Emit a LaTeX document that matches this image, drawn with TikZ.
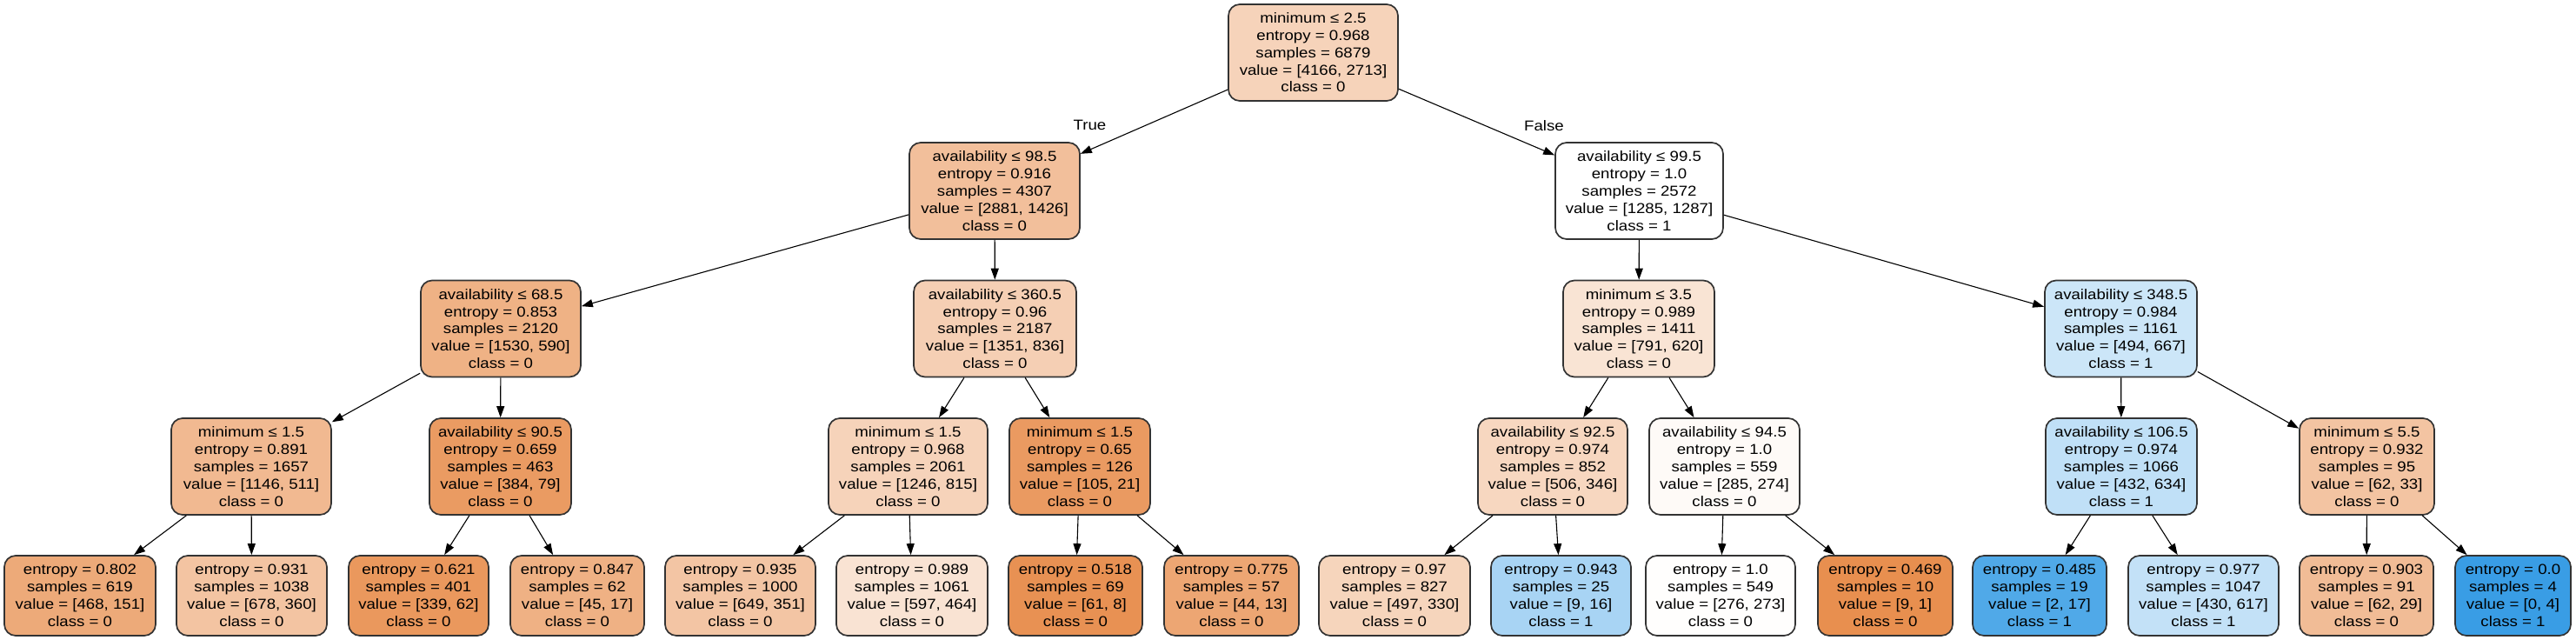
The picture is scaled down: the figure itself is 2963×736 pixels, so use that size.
\documentclass[tikz,border=0pt]{standalone}
\usepackage{fontspec}
\setmainfont{Liberation Sans}[FakeStretch=1.13]
\usetikzlibrary{arrows.meta}
\definecolor{cz}{RGB}{229,129,57}
\definecolor{co}{RGB}{57,157,229}
\newcommand\tnode[7]{\node[tn, fill=#6, minimum width=#4pt, minimum height=#5pt] (#1) at (#2,#3) {#7};}
\begin{document}
\begin{tikzpicture}[x=1pt,y=-1pt,
  tn/.style={draw=black!80, line width=1.7pt, rounded corners=13pt, inner sep=0pt, align=center, font=\fontsize{16.5}{19.8}\selectfont},
  ed/.style={-{Triangle[length=13pt,width=9pt]}, line width=1.1pt, black},
  lab/.style={font=\fontsize{16.5}{19.8}\selectfont}]
\fill[white] (0,0) rectangle (2963,736);
\useasboundingbox (0,0) rectangle (2963,736);
% level 0
\tnode{r}{1510.5}{60.5}{195}{111}{cz!34.9!white}{minimum ≤ 2.5\\entropy = 0.968\\samples = 6879\\value = [4166, 2713]\\class = 0}
% level 1
\tnode{a}{1144}{219.5}{196}{111}{cz!50.5!white}{availability ≤ 98.5\\entropy = 0.916\\samples = 4307\\value = [2881, 1426]\\class = 0}
\tnode{b}{1885.5}{219.5}{193}{111}{co!0.2!white}{availability ≤ 99.5\\entropy = 1.0\\samples = 2572\\value = [1285, 1287]\\class = 1}
% level 2
\tnode{aa}{576}{378}{184}{111}{cz!61.4!white}{availability ≤ 68.5\\entropy = 0.853\\samples = 2120\\value = [1530, 590]\\class = 0}
\tnode{ab}{1144.5}{378}{187}{111}{cz!38.1!white}{availability ≤ 360.5\\entropy = 0.96\\samples = 2187\\value = [1351, 836]\\class = 0}
\tnode{ba}{1885}{378}{174}{111}{cz!21.6!white}{minimum ≤ 3.5\\entropy = 0.989\\samples = 1411\\value = [791, 620]\\class = 0}
\tnode{bb}{2439.5}{378}{175}{111}{co!25.9!white}{availability ≤ 348.5\\entropy = 0.984\\samples = 1161\\value = [494, 667]\\class = 1}
% level 3
\tnode{aaa}{289}{536.5}{184}{111}{cz!55.4!white}{minimum ≤ 1.5\\entropy = 0.891\\samples = 1657\\value = [1146, 511]\\class = 0}
\tnode{aab}{575.5}{536.5}{163}{111}{cz!79.4!white}{availability ≤ 90.5\\entropy = 0.659\\samples = 463\\value = [384, 79]\\class = 0}
\tnode{aba}{1044.5}{536.5}{183}{111}{cz!34.6!white}{minimum ≤ 1.5\\entropy = 0.968\\samples = 2061\\value = [1246, 815]\\class = 0}
\tnode{abb}{1242}{536.5}{162}{111}{cz!80!white}{minimum ≤ 1.5\\entropy = 0.65\\samples = 126\\value = [105, 21]\\class = 0}
\tnode{baa}{1786}{536.5}{172}{111}{cz!31.6!white}{availability ≤ 92.5\\entropy = 0.974\\samples = 852\\value = [506, 346]\\class = 0}
\tnode{bab}{1983.5}{536.5}{173}{111}{cz!3.9!white}{availability ≤ 94.5\\entropy = 1.0\\samples = 559\\value = [285, 274]\\class = 0}
\tnode{bba}{2440}{536.5}{174}{111}{co!31.9!white}{availability ≤ 106.5\\entropy = 0.974\\samples = 1066\\value = [432, 634]\\class = 1}
\tnode{bbb}{2722.5}{536.5}{155}{111}{cz!46.8!white}{minimum ≤ 5.5\\entropy = 0.932\\samples = 95\\value = [62, 33]\\class = 0}
% leaves
\tnode{l1}{92}{685}{174}{92}{cz!67.7!white}{entropy = 0.802\\samples = 619\\value = [468, 151]\\class = 0}
\tnode{l2}{289.5}{685}{173}{92}{cz!46.9!white}{entropy = 0.931\\samples = 1038\\value = [678, 360]\\class = 0}
\tnode{l3}{481.5}{685}{161}{92}{cz!81.7!white}{entropy = 0.621\\samples = 401\\value = [339, 62]\\class = 0}
\tnode{l4}{664}{685}{154}{92}{cz!62.2!white}{entropy = 0.847\\samples = 62\\value = [45, 17]\\class = 0}
\tnode{l5}{851.5}{685}{173}{92}{cz!45.9!white}{entropy = 0.935\\samples = 1000\\value = [649, 351]\\class = 0}
\tnode{l6}{1049}{685}{174}{92}{cz!22.3!white}{entropy = 0.989\\samples = 1061\\value = [597, 464]\\class = 0}
\tnode{l7}{1237}{685}{154}{92}{cz!86.9!white}{entropy = 0.518\\samples = 69\\value = [61, 8]\\class = 0}
\tnode{l8}{1416.5}{685}{155}{92}{cz!70.5!white}{entropy = 0.775\\samples = 57\\value = [44, 13]\\class = 0}
\tnode{l9}{1604}{685}{174}{92}{cz!33.6!white}{entropy = 0.97\\samples = 827\\value = [497, 330]\\class = 0}
\tnode{l10}{1795.5}{685}{161}{92}{co!43.8!white}{entropy = 0.943\\samples = 25\\value = [9, 16]\\class = 1}
\tnode{l11}{1979}{685}{172}{92}{cz!1.1!white}{entropy = 1.0\\samples = 549\\value = [276, 273]\\class = 0}
\tnode{l12}{2168.5}{685}{155}{92}{cz!88.9!white}{entropy = 0.469\\samples = 10\\value = [9, 1]\\class = 0}
\tnode{l13}{2346}{685}{154}{92}{co!88.2!white}{entropy = 0.485\\samples = 19\\value = [2, 17]\\class = 1}
\tnode{l14}{2534.5}{685}{173}{92}{co!30.3!white}{entropy = 0.977\\samples = 1047\\value = [430, 617]\\class = 1}
\tnode{l15}{2722}{685}{154}{92}{cz!53.2!white}{entropy = 0.903\\samples = 91\\value = [62, 29]\\class = 0}
\tnode{l16}{2890.5}{685}{133}{92}{co!100!white}{entropy = 0.0\\samples = 4\\value = [0, 4]\\class = 1}
% edges
\foreach \p/\c in {r/a,r/b,a/aa,a/ab,b/ba,b/bb,aa/aaa,aa/aab,ab/aba,ab/abb,ba/baa,ba/bab,bb/bba,bb/bbb,
  aaa/l1,aaa/l2,aab/l3,aab/l4,aba/l5,aba/l6,abb/l7,abb/l8,baa/l9,baa/l10,bab/l11,bab/l12,bba/l13,bba/l14,bbb/l15,bbb/l16}
  \draw[ed] (\p) -- (\c);
% labels
\node[lab] (tl) at (1253.5,144) {True};
\node[lab] (fl) at (1776,145) {False};
\end{tikzpicture}
\end{document}
